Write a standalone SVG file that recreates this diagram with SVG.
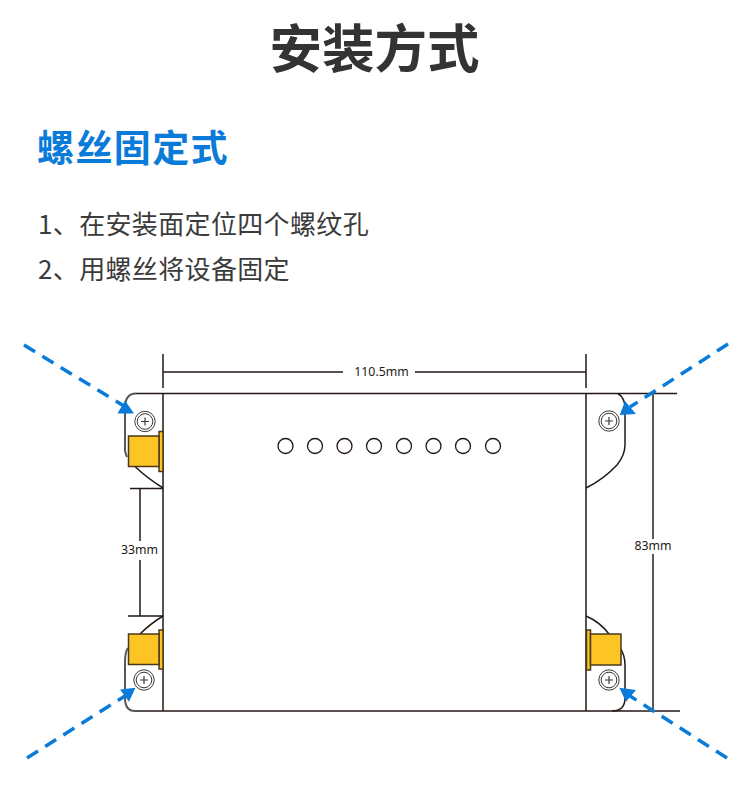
<svg xmlns="http://www.w3.org/2000/svg" width="750" height="790" viewBox="0 0 750 790">
<style>
text{font-family:"Noto Sans CJK SC","Noto Sans",sans-serif}
.title{font-size:52.500px;font-weight:700;fill:#333;text-anchor:middle}
.head{font-size:37px;font-weight:700;fill:#0a7bd8;letter-spacing:1.4px}
.body{font-size:26px;fill:#3b3b3b;letter-spacing:.35px}
.dim{font-size:12.300px;fill:#231815;font-family:"Noto Sans","Liberation Sans",sans-serif;text-anchor:middle}
.l{fill:none;stroke:#231815;stroke-width:1.500}
.g{fill:none;stroke:#595757;stroke-width:2}
.hole{fill:#fff;stroke:#231815;stroke-width:1.300}
.y{fill:#fdc426;stroke:#4a3a1a;stroke-width:1.500}
.arrow{fill:none;stroke:#0a7bd8;stroke-width:3.500;stroke-dasharray:13 8.500}
.tip{fill:#0a7bd8}
</style>
<text class="title" x="374.500" y="68">安装方式</text>
<text class="head" x="37" y="162">螺丝固定式</text>
<text class="body" x="38" y="234">1、在安装面定位四个螺纹孔</text>
<text class="body" x="38" y="279">2、用螺丝将设备固定</text>
<g id="board-outline">
<path class="g" d="M127 457Q125 452 125 450V408Q125 393.500 136 393.500"/>
<path class="l" d="M136 393.500H677M163 393.500V711M586 393.500V711M135 711H680"/>
<path class="g" d="M653 393.500V711"/>
<path class="g" d="M128 648Q125 652 125 662V698Q125 711 135 711"/>
<path class="l" d="M135 466.500Q147 478 163 488M140 634Q150 624 163 616"/>
<path class="l" d="M618 393.500Q625 398 625 408V445Q625 455 617 465Q604 479 586 488"/>
<path class="l" d="M620 648Q625 655 625 665V698Q625 711 612 711M609 634Q600 622 586 616"/>
</g>
<g id="connectors">
<path class="l" d="M163 354V388M163 372H343M415 372H586M586 354V388"/>
<path class="l" d="M130 488.500H163M140 488.500V541M140 560V616M128 616H163"/>
</g>
<g id="dim-labels">
<text class="dim" x="381.500" y="376">110.5mm</text>
<text class="dim" x="139.500" y="554">33mm</text>
<text class="dim" x="653" y="550" style="paint-order:stroke;stroke:#fff;stroke-width:8px">83mm</text>
</g>
<g id="indicators">
<circle class="hole" cx="285.500" cy="446" r="7.500"/>
<circle class="hole" cx="315" cy="446" r="7.500"/>
<circle class="hole" cx="344.500" cy="446" r="7.500"/>
<circle class="hole" cx="374" cy="446" r="7.500"/>
<circle class="hole" cx="404" cy="446" r="7.500"/>
<circle class="hole" cx="433.500" cy="446" r="7.500"/>
<circle class="hole" cx="463" cy="446" r="7.500"/>
<circle class="hole" cx="493" cy="446" r="7.500"/>
</g>
<defs>
<g id="screw">
<circle r="10.200" fill="#fff" stroke="#3e3a39" stroke-width="1"/>
<circle r="7.800" fill="none" stroke="#3e3a39" stroke-width="1"/>
<path d="M-4 0H4M0-4V4" stroke="#3e3a39" stroke-width="1.200" fill="none"/>
</g>
</defs>
<g id="screw-tl"><use href="#screw" x="145" y="421.500"/></g>
<g id="screw-bl"><use href="#screw" x="144" y="680"/></g>
<g id="screw-tr"><use href="#screw" x="609" y="421"/></g>
<g id="screw-br"><use href="#screw" x="609" y="680"/></g>
<g id="sma-tl"><rect class="y" x="159" y="431.500" width="4" height="40"/><rect class="y" x="128.500" y="436" width="30.500" height="30.500"/></g>
<g id="sma-bl"><rect class="y" x="159" y="630" width="4" height="39"/><rect class="y" x="128.500" y="634" width="30.500" height="30.500"/></g>
<g id="sma-br"><rect class="y" x="586.500" y="630" width="4" height="40"/><rect class="y" x="590.500" y="634" width="30.500" height="31"/></g>
<g id="arrows">
<path class="arrow" d="M24 345L124 406"/>
<path class="tip" d="M134 413.500H117.500L125 400.500Z"/>
<path class="arrow" d="M27 758L125 696"/>
<path class="tip" d="M135.500 687.700L120 689.500L129 701.700Z"/>
<path class="arrow" d="M728 344L630 407"/>
<path class="tip" d="M619.700 415L625 401L636 414Z"/>
<path class="arrow" d="M727 758L630 696"/>
<path class="tip" d="M619.300 687.700L636 690L626 701.700Z"/>
</g>
</svg>
